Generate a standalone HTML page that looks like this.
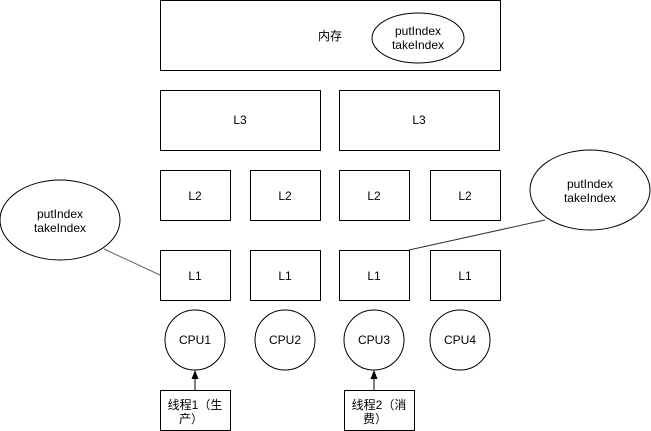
<!DOCTYPE html>
<html><head><meta charset="utf-8"><style>
html,body{margin:0;padding:0;background:#fff;}
svg{display:block;}
text{font-family:"Liberation Sans","Noto Sans CJK SC",sans-serif;font-size:12px;fill:#000;}
</style></head><body>
<svg width="651" height="431" viewBox="0 0 651 431" xmlns="http://www.w3.org/2000/svg">
<g fill="#fff" stroke="#000" stroke-width="1">
<rect x="160.5" y="0.5" width="340" height="70"/>
<ellipse cx="418" cy="38" rx="46" ry="25"/>
<rect x="160.5" y="90.5" width="160" height="60"/>
<rect x="339.5" y="90.5" width="160" height="60"/>
<rect x="160.5" y="170.5" width="70" height="50"/>
<rect x="250.5" y="170.5" width="70" height="50"/>
<rect x="339.5" y="170.5" width="70" height="50"/>
<rect x="430.5" y="170.5" width="70" height="50"/>
<rect x="160.5" y="250.5" width="70" height="50"/>
<rect x="250.5" y="250.5" width="70" height="50"/>
<rect x="339.5" y="250.5" width="70" height="50"/>
<rect x="430.5" y="250.5" width="70" height="50"/>
<ellipse cx="195" cy="340" rx="30" ry="30"/>
<ellipse cx="285" cy="340" rx="30" ry="30"/>
<ellipse cx="374" cy="340" rx="30" ry="30"/>
<ellipse cx="460" cy="340" rx="30" ry="30"/>
<rect x="160.5" y="390.5" width="70" height="40"/>
<rect x="344.5" y="390.5" width="70" height="40"/>
<ellipse cx="60" cy="220" rx="60" ry="40"/>
<ellipse cx="590" cy="190" rx="60" ry="40"/>
</g>
<line x1="104" y1="249" x2="160" y2="275" stroke="#666"/>
<line x1="409" y1="250" x2="545" y2="220" stroke="#333"/>
<line x1="195" y1="390" x2="195" y2="378" stroke="#000"/>
<polygon points="195,370 191.5,379 198.5,379" fill="#000"/>
<line x1="374" y1="390" x2="374" y2="378" stroke="#000"/>
<polygon points="374,370 370.5,379 377.5,379" fill="#000"/>
<g text-anchor="middle">
<text x="330" y="40">内存</text>
<text x="418" y="35">putIndex</text>
<text x="418" y="49">takeIndex</text>
<text x="240" y="124">L3</text>
<text x="419" y="124">L3</text>
<text x="195" y="200">L2</text><text x="285" y="200">L2</text><text x="374" y="200">L2</text><text x="465" y="200">L2</text>
<text x="195" y="280">L1</text><text x="285" y="280">L1</text><text x="374" y="280">L1</text><text x="465" y="280">L1</text>
<text x="195" y="344">CPU1</text><text x="285" y="344">CPU2</text><text x="374" y="344">CPU3</text><text x="460" y="344">CPU4</text>
<text x="60" y="218">putIndex</text><text x="60" y="232">takeIndex</text>
<text x="590" y="188">putIndex</text><text x="590" y="202">takeIndex</text>
<text x="195" y="409">线程1（生</text><text x="191" y="423">产）</text>
<text x="379" y="409">线程2（消</text><text x="375" y="423">费）</text>
</g>
</svg>
</body></html>
